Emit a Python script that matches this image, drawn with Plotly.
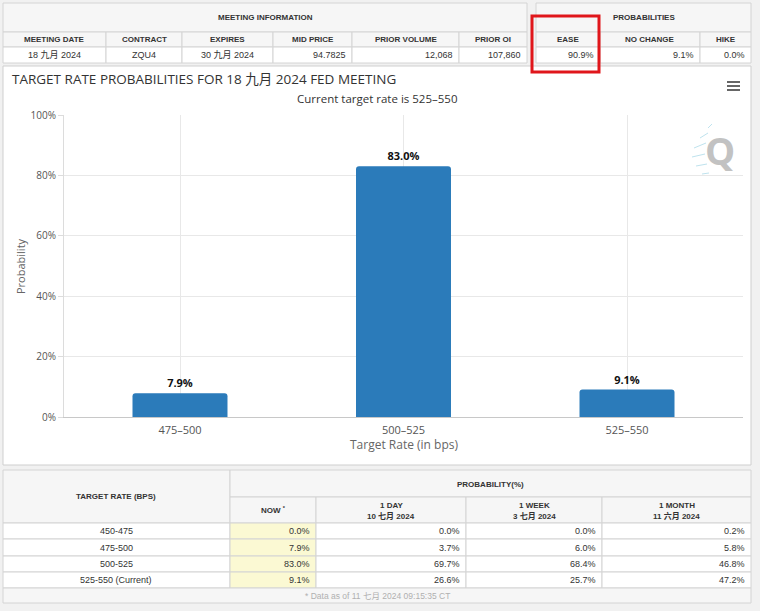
import plotly.graph_objects as go

# ---------------- data ----------------
rates = ["475–500", "500–525", "525–550"]
probs = [7.9, 83.0, 9.1]
y_ticks = [0, 20, 40, 60, 80, 100]
y_tick_text = ["0%", "20%", "40%", "60%", "80%", "100%"]

meeting_cols = ["MEETING DATE", "CONTRACT", "EXPIRES", "MID PRICE", "PRIOR VOLUME", "PRIOR OI"]
meeting_vals = ["18 九月 2024", "ZQU4", "30 九月 2024", "94.7825", "12,068", "107,860"]
prob_cols = ["EASE", "NO CHANGE", "HIKE"]
prob_vals = ["90.9%", "9.1%", "0.0%"]

table_rates = ["450-475", "475-500", "500-525", "525-550 (Current)"]
now_vals = [0.0, 7.9, 83.0, 9.1]
day_vals = [0.0, 3.7, 69.7, 26.6]
week_vals = [0.0, 6.0, 68.4, 25.7]
month_vals = [0.2, 5.8, 46.8, 47.2]
period_heads = ["1 DAY", "1 WEEK", "1 MONTH"]
period_dates = ["10 七月 2024", "3 七月 2024", "11 六月 2024"]

title_text = "TARGET RATE PROBABILITIES FOR 18 九月 2024 FED MEETING"
subtitle_text = "Current target rate is 525–550"
footer_text = "* Data as of 11 七月 2024 09:15:35 CT"

# ---------------- helpers ----------------
W, H = 760, 611
def X(px): return px / W
def Y(py): return 1 - py / H

TFONT = "Liberation Sans, Arial, Noto Sans CJK SC, sans-serif"
CFONT = "Open Sans, Noto Sans CJK SC, sans-serif"
BORDER = "#d4d4d4"
HEADBG = "#f6f6f6"

shapes = []
annotations = []

def rect(x0, y0, x1, y1, fill="white", line=BORDER, lw=1):
    shapes.append(dict(type="rect", xref="paper", yref="paper",
                       x0=X(x0), x1=X(x1), y0=Y(y1), y1=Y(y0),
                       fillcolor=fill, line=dict(color=line, width=lw), layer="below"))

def line(x0, y0, x1, y1, color, width=1):
    shapes.append(dict(type="line", xref="paper", yref="paper",
                       x0=X(x0), x1=X(x1), y0=Y(y0), y1=Y(y1),
                       line=dict(color=color, width=width)))

def text(s, x, y, size=9, color="#333", bold=False, anchor="center", font=TFONT, angle=0):
    if bold:
        s = "<b>" + s + "</b>"
    annotations.append(dict(text=s, x=X(x), y=Y(y), xref="paper", yref="paper",
                            xanchor=anchor, yanchor="middle", showarrow=False,
                            textangle=angle,
                            font=dict(size=size, color=color, family=font)))

# ---------------- top tables ----------------
m_edges = [3, 106, 182, 273, 352, 459, 527]
rect(3, 3, 527, 32, HEADBG)
text("MEETING INFORMATION", 265, 17.5, size=8, bold=True)
for i, c in enumerate(meeting_cols):
    x0, x1 = m_edges[i], m_edges[i + 1]
    rect(x0, 32, x1, 47, HEADBG)
    rect(x0, 47, x1, 63, "white")
    text(c, (x0 + x1) / 2, 39.5, size=8, bold=True)
    if i < 3:
        text(meeting_vals[i], (x0 + x1) / 2, 55, size=9)
    else:
        text(meeting_vals[i], x1 - 4, 55, size=9, anchor="right")

p_edges = [536, 600, 700, 751]
rect(536, 3, 751, 32, HEADBG)
text("PROBABILITIES", 643.5, 17.5, size=8, bold=True)
for i, c in enumerate(prob_cols):
    x0, x1 = p_edges[i], p_edges[i + 1]
    rect(x0, 32, x1, 47, HEADBG)
    rect(x0, 47, x1, 63, "white")
    text(c, (x0 + x1) / 2, 39.5, size=8, bold=True)
    text(prob_vals[i], x1 - 4, 55, size=9, anchor="right")

# ---------------- chart panel ----------------
rect(3, 66, 751, 465, "white", "#cfcfcf")
text(title_text, 10, 79, size=13.5, color="#333", font=CFONT, anchor="left")
text(subtitle_text, 377, 98, size=11.5, color="#333", font=CFONT)
text("Probability", 20, 266, size=11, color="#666", font=CFONT, angle=-90)
text("Target Rate (in bps)", 404, 445, size=12, color="#666", font=CFONT)
for yy in (82, 86, 90):
    line(727, yy, 740, yy, "#666", 2)
# watermark
for (x0, y0, x1, y1) in [(708, 128, 712, 124), (700, 138, 708, 133), (694, 148, 706, 143),
                         (692, 157, 705, 154), (696, 166, 707, 164), (702, 174, 709, 173)]:
    line(x0, y0, x1, y1, "#bfe3ee", 1)
text("Q", 720, 150, size=38, color="#c2c2c2", bold=True, font="Open Sans, sans-serif")

# ---------------- bottom table ----------------
rect(3, 470, 230, 523, HEADBG)
text("TARGET RATE (BPS)", 116, 496, size=8, bold=True)
rect(230, 470, 751, 497, HEADBG)
text("PROBABILITY(%)", 490, 484, size=8, bold=True)
b_edges = [230, 316, 466, 602, 751]
rect(230, 497, 316, 523, HEADBG)
text("NOW <sup>*</sup>", 273, 510, size=8, bold=True)
for i in range(3):
    x0, x1 = b_edges[i + 1], b_edges[i + 2]
    rect(x0, 497, x1, 523, HEADBG)
    text(period_heads[i], (x0 + x1) / 2, 505, size=8, bold=True)
    text(period_dates[i], (x0 + x1) / 2, 515.5, size=8, bold=True)

row_edges = [523, 539, 556, 572, 588]
cols_vals = [now_vals, day_vals, week_vals, month_vals]
for r, lab in enumerate(table_rates):
    y0, y1 = row_edges[r], row_edges[r + 1]
    ym = (y0 + y1) / 2
    rect(3, y0, 230, y1, "white")
    text(lab, 116, ym, size=9)
    for c in range(4):
        x0, x1 = b_edges[c], b_edges[c + 1]
        rect(x0, y0, x1, y1, "#fbf9d3" if c == 0 else "white")
        text(f"{cols_vals[c][r]:.1f}%", x1 - 4, ym, size=9, anchor="right")
rect(3, 588, 751, 603, HEADBG)
text(footer_text, 377, 596, size=8.5, color="#b0b0b0")

# red highlight box
shapes.append(dict(type="rect", xref="paper", yref="paper",
                   x0=X(532), x1=X(599), y0=Y(72), y1=Y(16),
                   line=dict(color="#e0161b", width=3), fillcolor="rgba(0,0,0,0)",
                   layer="above"))

# ---------------- bar chart ----------------
fig = go.Figure(go.Bar(
    x=rates, y=probs, width=0.425,
    marker=dict(color="#2b7bba", cornerradius=3, line=dict(width=0)),
    text=[f"{v:.1f}%" for v in probs], textposition="outside",
    textfont=dict(size=11, color="#111", family=CFONT, weight="bold"),
    cliponaxis=False, hoverinfo="skip",
))

fig.update_layout(
    width=W, height=H,
    autosize=False,
    margin=dict(l=0, r=0, t=0, b=0, pad=0, autoexpand=False),
    paper_bgcolor="#f1f1f1",
    plot_bgcolor="rgba(0,0,0,0)",
    showlegend=False,
    shapes=shapes,
    annotations=annotations,
    xaxis=dict(domain=[X(64), X(743)], type="category", range=[-0.519, 2.519],
               showgrid=True, gridcolor="#e8e8e8", showline=True, linecolor="#c8c8c8",
               ticks="", ticklabelstandoff=3,
               tickfont=dict(size=11, color="#555", family=CFONT),
               fixedrange=True, zeroline=False, automargin=False),
    yaxis=dict(domain=[Y(417), Y(115)], range=[0, 100], tickmode="array",
               tickvals=y_ticks, ticktext=y_tick_text,
               showgrid=True, gridcolor="#e8e8e8",
               showline=True, linecolor="#dcdcdc", ticks="outside", ticklen=5,
               tickcolor="#dcdcdc", tickfont=dict(size=10, color="#555", family=CFONT),
               zeroline=False, fixedrange=True, automargin=False),
    bargap=0.5,
)

fig.write_html("out.html", config={"displayModeBar": False})
